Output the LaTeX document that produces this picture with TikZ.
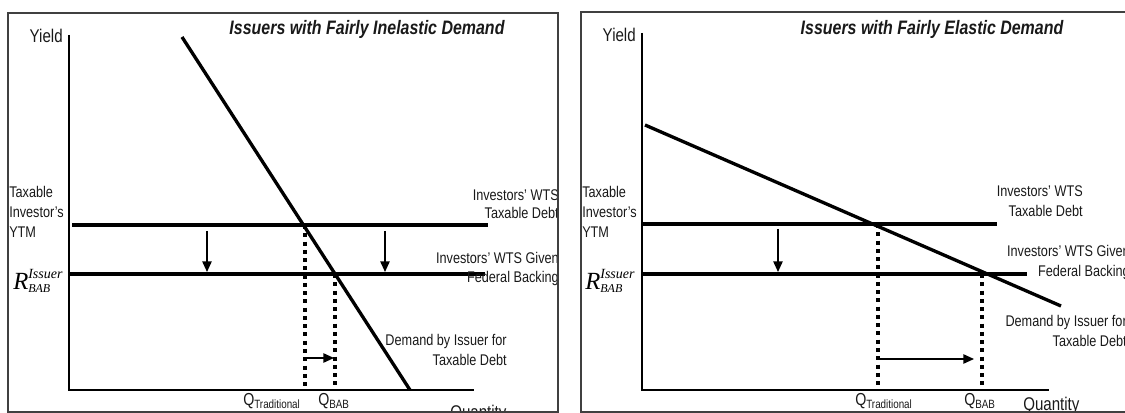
\documentclass[tikz,border=0pt]{standalone}
\usepackage{fontspec}
\setmainfont{Liberation Sans}[FakeStretch=0.82]
\newfontfamily\rfont{Liberation Serif}
\usetikzlibrary{arrows.meta}
\begin{document}
\begin{tikzpicture}[x=0.75pt,y=-0.75pt,
  frame/.style={draw=black!75, line width=0.8pt},
  axis/.style={line width=1.1pt},
  curve/.style={line width=2.5pt},
  dotline/.style={line width=3.3pt, dash pattern=on 3pt off 3.2pt},
  arr/.style={line width=1.2pt, -{Triangle[length=8pt,width=7pt]}},
  lbl/.style={font=\fontsize{11.6}{14}\selectfont, inner sep=0pt, text=black!90},
  big/.style={font=\fontsize{13.8}{15}\selectfont, inner sep=0pt, text=black!90},
  ttl/.style={font=\fontsize{14.6}{16}\selectfont\bfseries\itshape, inner sep=0pt, text=black!90},
  qlbl/.style={inner sep=0pt, anchor=base west, text=black!90}
]
\useasboundingbox (0,0) rectangle (1125,413);
\newcommand{\Qsub}[1]{{\fontsize{13}{14}\selectfont Q}\raisebox{-2.2pt}{\fontsize{9}{10}\selectfont #1}}
\newcommand{\Rbab}{{\rfont\itshape\fontsize{18.5}{20}\selectfont R\rlap{\raisebox{8.25pt}{\fontsize{10.5}{12}\selectfont Issuer}}\raisebox{-2.25pt}{\fontsize{9}{10}\selectfont BAB}}}

% ================= LEFT PANEL =================
\begin{scope}
\clip (8,13) rectangle (558,412);
\draw[axis] (69,35) -- (69,390) -- (474,390);
\draw[curve] (72,225) -- (488,225);
\draw[curve] (69,274) -- (485,274);
\draw[dotline] (305,225) -- (305,390);
\draw[dotline] (335,274) -- (335,390);
\draw[curve] (182,37) -- (410,390);
\draw[arr] (207,231) -- (207,272);
\draw[arr] (385,231) -- (385,272);
\draw[arr] (305,358) -- (334,358);
\node[big, anchor=base east] (yl) at (63,43) {Yield};
\node[ttl, anchor=base] (tl) at (367,35) {Issuers with Fairly Inelastic Demand};
\node[lbl, anchor=base west] (l1) at (9,198) {Taxable};
\node[lbl, anchor=base west] (l2) at (9,218) {Investor's};
\node[lbl, anchor=base west] (l3) at (9,238) {YTM};
\node[inner sep=0pt, anchor=base west] (rl) at (13,290) {\Rbab};
\node[lbl, anchor=base east] (l4) at (559,201) {Investors' WTS};
\node[lbl, anchor=base east] (l5) at (559,219) {Taxable Debt};
\node[lbl, anchor=base east] (l6) at (559,264) {Investors' WTS Given};
\node[lbl, anchor=base east] (l7) at (559,283) {Federal Backing};
\node[lbl, anchor=base east] (l8) at (507,346) {Demand by Issuer for};
\node[lbl, anchor=base east] (l9) at (507,366) {Taxable Debt};
\node[qlbl] (qt) at (243,406) {\Qsub{Traditional}};
\node[qlbl] (qb) at (318,406) {\Qsub{BAB}};
\node[big, anchor=base west] (ql) at (450,418) {Quantity};
\end{scope}
\draw[frame] (8,13) rectangle (558,412);

% ================= RIGHT PANEL =================
\begin{scope}
\clip (581,12) rectangle (1130,412);
\draw[axis] (642,33) -- (642,390) -- (1049,390);
\draw[curve] (643,224) -- (997,224);
\draw[curve] (642,274) -- (1027,274);
\draw[dotline] (878,224) -- (878,390);
\draw[dotline] (982,274) -- (982,390);
\draw[curve] (645,125) -- (1061,306);
\draw[arr] (778,229) -- (778,272);
\draw[arr] (878,359) -- (974,359);
\node[big, anchor=base east] (yr) at (636,42) {Yield};
\node[ttl, anchor=base] (tr) at (932,35) {Issuers with Fairly Elastic Demand};
\node[lbl, anchor=base west] (r1) at (582,198) {Taxable};
\node[lbl, anchor=base west] (r2) at (582,218) {Investor's};
\node[lbl, anchor=base west] (r3) at (582,238) {YTM};
\node[inner sep=0pt, anchor=base west] (rr) at (585,290) {\Rbab};
\node[lbl, anchor=base east] (r4) at (1083,197) {Investors' WTS};
\node[lbl, anchor=base east] (r5) at (1083,217) {Taxable Debt};
\node[lbl, anchor=base east] (r6) at (1130,257) {Investors' WTS Given};
\node[lbl, anchor=base east] (r7) at (1130,277) {Federal Backing};
\node[lbl, anchor=base east] (r8) at (1127,327) {Demand by Issuer for};
\node[lbl, anchor=base east] (r9) at (1127,347) {Taxable Debt};
\node[qlbl] (rqt) at (855,406) {\Qsub{Traditional}};
\node[qlbl] (rqb) at (964,406) {\Qsub{BAB}};
\node[big, anchor=base west] (qr) at (1023,411) {Quantity};
\end{scope}
\draw[frame] (581,12) rectangle (1130,412);
\end{tikzpicture}
\end{document}
